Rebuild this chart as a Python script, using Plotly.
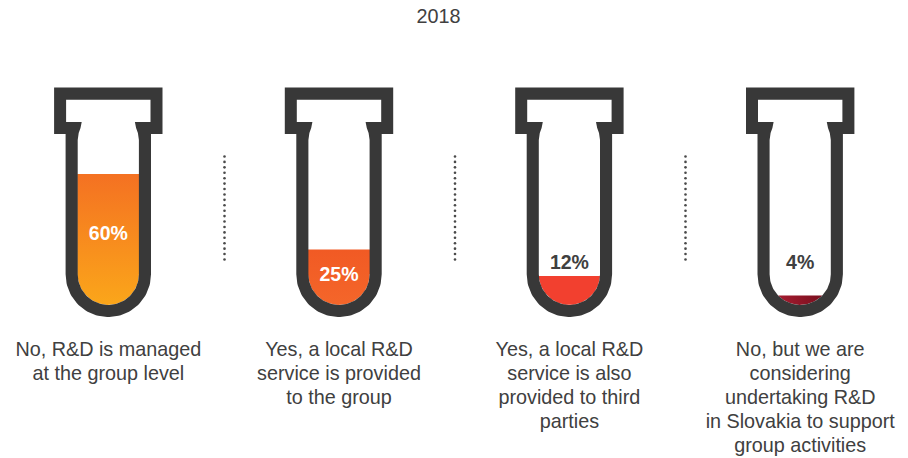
import numpy as np
import plotly.graph_objects as go

title = "2018"
values = [60, 25, 12, 4]
value_labels = ["60%", "25%", "12%", "4%"]
# liquid level in each tube (percent-of-scale units)
levels = [60.9, 25.8, 13.5, 4.4]
label_y = [235, 276, 264, 264]
label_colors = ["#ffffff", "#ffffff", "#404040", "#404040"]
captions = [
    ["No, R&D is managed", "at the group level"],
    ["Yes, a local R&D", "service is provided", "to the group"],
    ["Yes, a local R&D", "service is also", "provided to third", "parties"],
    ["No, but we are", "considering", "undertaking R&D", "in Slovakia to support", "group activities"],
]
fill_gradients = [
    dict(type="vertical", colorscale=[[0, "#FBA61A"], [1, "#F47122"]]),
    dict(type="vertical", colorscale=[[0, "#F4662A"], [1, "#F15A24"]]),
    dict(type="vertical", colorscale=[[0, "#F2402F"], [1, "#F2402F"]]),
    dict(type="horizontal", colorscale=[[0, "#A51C30"], [1, "#7A0F1E"]]),
]
centers = [108.3, 339.0, 569.4, 800.2]
separators = [224.5, 455.0, 685.5]

DARK = "#383838"
BASE_Y = 305.0
UNIT = 2.15
ARC_Y = 274.3
R_IN, R_OUT = 30.6, 42.7


def arc(cx, r, a0, a1, n=60):
    t = np.radians(np.linspace(a0, a1, n))
    return cx + r * np.cos(t), ARC_Y + r * np.sin(t)


fig = go.Figure()

for cx, lvl, grad in zip(centers, levels, fill_gradients):
    top = BASE_Y - lvl * UNIT
    ax, ay = arc(cx, R_IN, 0, 180)
    keep = ay >= top
    ax, ay = ax[keep], ay[keep]
    if top < ARC_Y:
        xs = np.r_[cx - R_IN - .5, cx + R_IN + .5, cx + R_IN + .5, ax, cx - R_IN - .5]
        ys = np.r_[top, top, ARC_Y, ay, ARC_Y]
    else:
        half = np.sqrt(R_IN ** 2 - (top - ARC_Y) ** 2)
        xs = np.r_[cx - half, cx + half, ax]
        ys = np.r_[top, top, ay]
    fig.add_trace(go.Scatter(x=xs, y=ys, mode="lines", line=dict(width=0), fill="toself",
                             fillgradient=grad, hoverinfo="skip", showlegend=False))

for cx in centers:
    ox, oy = arc(cx, R_OUT, 0, 180)
    outer_x = np.r_[cx - 54.2, cx + 54.2, cx + 54.2, cx + R_OUT, ox, cx - R_OUT, cx - 54.2]
    outer_y = np.r_[87.5, 87.5, 134, 134, oy, 134, 134]
    sh_x = np.array([26.6, 27.8, 29.6, R_IN])
    sh_y = np.array([122.0, 128.0, 133.0, 140.0])
    ix, iy = arc(cx, R_IN, 180, 0)
    inner_x = np.r_[cx - 42.2, cx - 42.2, cx - sh_x, ix, cx + sh_x[::-1], cx + 42.2, cx + 42.2]
    inner_y = np.r_[99.7, 122, sh_y, iy, sh_y[::-1], 122, 99.7]
    fig.add_trace(go.Scatter(
        x=np.r_[outer_x, np.nan, inner_x], y=np.r_[outer_y, np.nan, inner_y],
        mode="lines", line=dict(width=0), fill="toself", fillcolor=DARK,
        hoverinfo="skip", showlegend=False, connectgaps=False))

for sx in separators:
    ys = np.arange(156.5, 263, 5.42)
    fig.add_trace(go.Scatter(x=[sx] * len(ys), y=ys, mode="markers",
                             marker=dict(size=2.6, color="#4a4a4a"),
                             hoverinfo="skip", showlegend=False))

for cx, lab, y, col in zip(centers, value_labels, label_y, label_colors):
    fig.add_trace(go.Scatter(x=[cx], y=[y], mode="text", text=[lab],
                             textfont=dict(family="Liberation Sans", size=19.5, color=col),
                             texttemplate="<b>%{text}</b>", hoverinfo="skip", showlegend=False))

for cx, lines in zip(centers, captions):
    ys = [351 + 24 * i for i in range(len(lines))]
    fig.add_trace(go.Scatter(x=[cx] * len(lines), y=ys, mode="text", text=lines, cliponaxis=False,
                             textfont=dict(family="Liberation Sans", size=19.8, color="#404040"),
                             hoverinfo="skip", showlegend=False))

fig.add_trace(go.Scatter(x=[438.5], y=[18], mode="text", text=[title], cliponaxis=False,
                         textfont=dict(family="Liberation Sans", size=19.8, color="#404040"),
                         hoverinfo="skip", showlegend=False))

# the page body has an 8 px margin: the plot covers picture pixels 8..908 / 8..458
fig.update_layout(
    width=900, height=450, margin=dict(l=0, r=0, t=0, b=0),
    paper_bgcolor="white", plot_bgcolor="white", showlegend=False,
    xaxis=dict(range=[8, 908], visible=False, fixedrange=True),
    yaxis=dict(range=[458, 8], visible=False, fixedrange=True),
)
fig.write_html("out.html", config=dict(displayModeBar=False))
